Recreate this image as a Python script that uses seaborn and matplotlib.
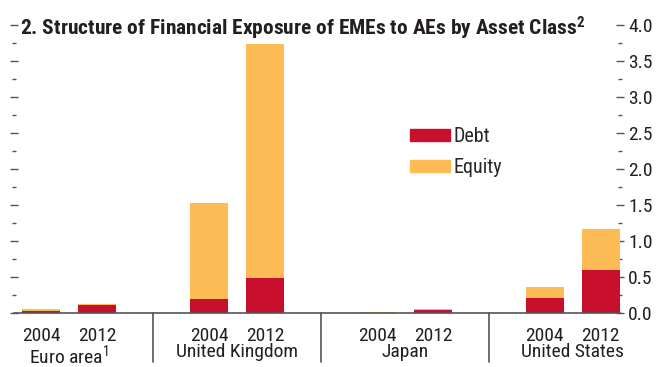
import matplotlib
matplotlib.use("Agg")
import matplotlib.pyplot as plt
import matplotlib.patches as mpatches
from matplotlib import font_manager
import seaborn as sns
import pandas as pd

# Data (trillions)
regions = ["Euro area$^1$", "United Kingdom", "Japan", "United States"]
years = ["2004", "2012"]
debt = [0.03, 0.11, 0.19, 0.49, 0.005, 0.045, 0.21, 0.60]
equity = [0.02, 0.015, 1.34, 3.25, 0.005, 0.01, 0.15, 0.57]

red = "#C8102E"
orange = "#FDBB55"
ink = "#231f20"

sns.set_theme(style="white")
names = {f.name for f in font_manager.fontManager.ttflist}
if "Roboto Condensed" in names:
    family = "Roboto Condensed"
elif "Archivo Narrow" in names:
    family = "Archivo Narrow"
else:
    family = "DejaVu Sans"
    plt.rcParams["font.stretch"] = "condensed"
plt.rcParams["font.family"] = [family, "DejaVu Sans"]
plt.rcParams["mathtext.fontset"] = "custom"
plt.rcParams["mathtext.rm"] = family
plt.rcParams["mathtext.bf"] = family + ":bold"
plt.rcParams["mathtext.default"] = "regular"

# Build slot order: two bars per region, then a blank separator slot
rows = []
order = []
k = 0
for i, reg in enumerate(regions):
    for yr in years:
        slot = f"{reg}|{yr}"
        order.append(slot)
        rows.append({"slot": slot, "Debt": debt[k], "Equity": equity[k]})
        k += 1
    if i < len(regions) - 1:
        order.append(f"gap{i}")
df = pd.DataFrame(rows)
df["Total"] = df["Debt"] + df["Equity"]

fig = plt.figure(figsize=(6.68, 3.67), dpi=100)
ax = fig.add_axes([0.021, 0.147, 0.907, 0.785])

sns.barplot(data=df, x="slot", y="Total", order=order, color=orange,
            width=0.68, saturation=1, linewidth=0, ax=ax)
sns.barplot(data=df, x="slot", y="Debt", order=order, color=red,
            width=0.68, saturation=1, linewidth=0, ax=ax)

ax.set_xlim(-0.48, 10.34)
ax.set_ylim(0, 4.0)
for s in ["top", "left", "right"]:
    ax.spines[s].set_visible(False)
ax.spines["bottom"].set_color("#555555")
ax.spines["bottom"].set_linewidth(1.2)

# x ticks: years under each bar
bar_pos = [i for i, s in enumerate(order) if not s.startswith("gap")]
ax.set_xticks(bar_pos)
ax.set_xticklabels([s.split("|")[1] for s in order if not s.startswith("gap")],
                   fontsize=14, color=ink)
ax.tick_params(axis="x", length=0, pad=10)
ax.set_xlabel("")
ax.set_ylabel("")

# region labels and separators
for i, reg in enumerate(regions):
    ax.text(bar_pos[2 * i] + 0.5, -0.105, reg, transform=ax.get_xaxis_transform(),
            ha="center", va="top", fontsize=14, color=ink)
for i, s in enumerate(order):
    if s.startswith("gap"):
        ax.plot([i, i], [0, -0.17], transform=ax.get_xaxis_transform(),
                color="#555555", lw=1.2, clip_on=False)

# y ticks on both sides, labels on right
ax.set_yticks([0, 0.5, 1.0, 1.5, 2.0, 2.5, 3.0, 3.5, 4.0])
ax.set_yticks([0.25 + 0.5 * i for i in range(8)], minor=True)
ax.set_yticklabels([f"{v:.1f}" for v in ax.get_yticks()], fontsize=14, color=ink)
ax.tick_params(axis="y", which="both", left=True, right=True, labelleft=False,
               labelright=True, direction="inout", color="#555555")
ax.tick_params(axis="y", which="major", length=6, width=1, pad=3)
ax.tick_params(axis="y", which="minor", length=3, width=1)

# legend
handles = [mpatches.Patch(color=red, label="Debt"),
           mpatches.Patch(color=orange, label="Equity")]
ax.legend(handles=handles, loc="upper left", bbox_to_anchor=(0.653, 0.645),
          frameon=False, fontsize=14.5, handlelength=2.0, handleheight=0.52,
          handletextpad=0.2, labelspacing=0.6, borderaxespad=0, borderpad=0)

fig.text(20 / 668, 1 - 35 / 367,
         r"2. Structure of Financial Exposure of EMEs to AEs by Asset Class$^{\mathbf{2}}$",
         fontsize=15.4, fontweight="bold", color=ink, va="baseline", ha="left")

fig.savefig("out.png", dpi=100)
